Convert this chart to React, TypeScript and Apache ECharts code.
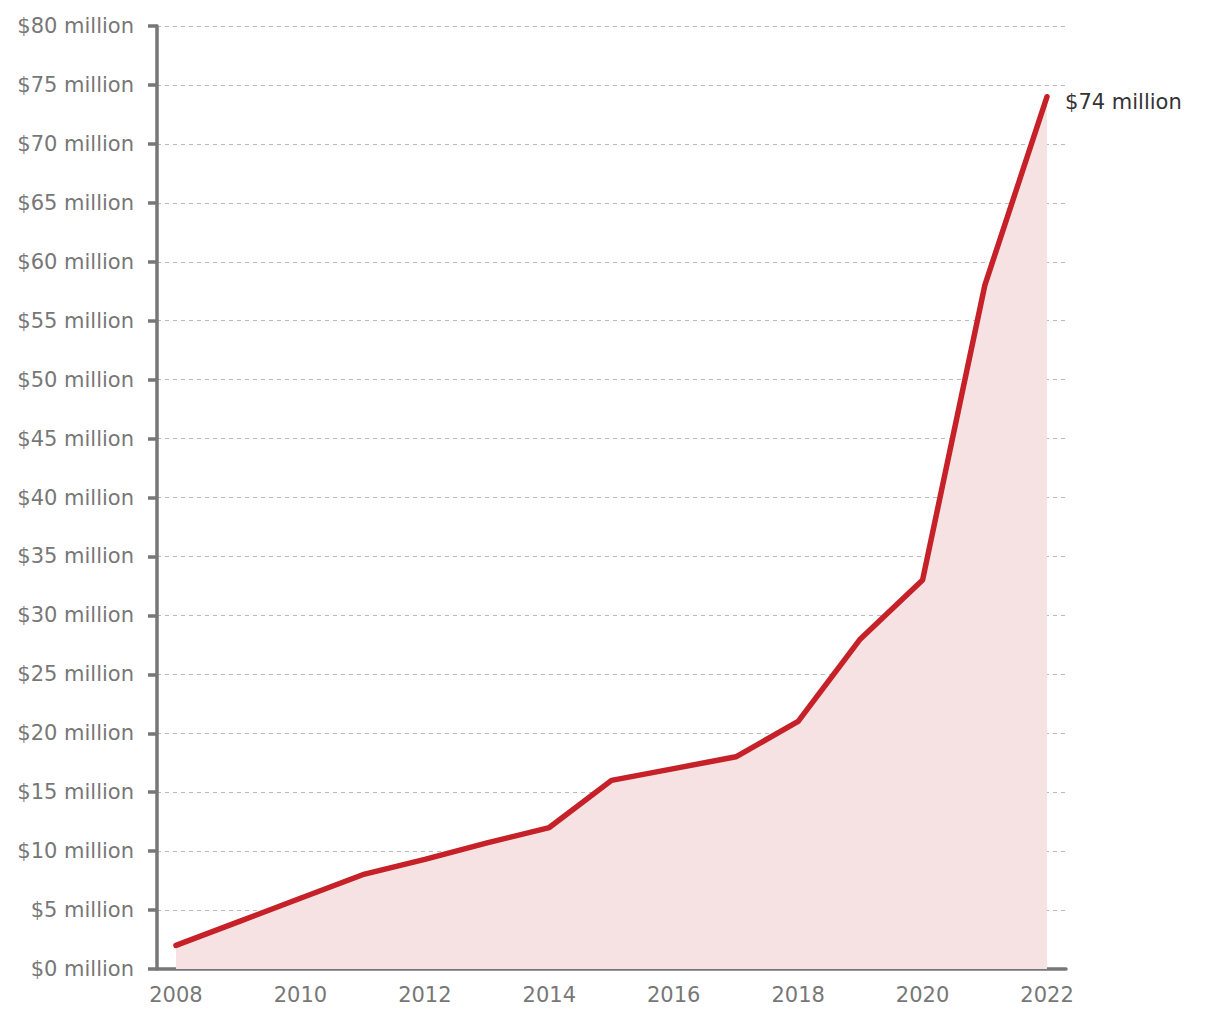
import React, { useEffect, useRef } from "react";
import * as echarts from "echarts";

const years = [2008, 2009, 2010, 2011, 2012, 2013, 2014, 2015, 2016, 2017, 2018, 2019, 2020, 2021, 2022];
const revenue = [2, 4, 6, 8, 9.3, 10.7, 12, 16, 17, 18, 21, 28, 33, 58, 74];
const xTickYears = [2008, 2010, 2012, 2014, 2016, 2018, 2020, 2022];

const FONT = "'DejaVu Sans', 'Open Sans', sans-serif";

export default function App() {
  const ref = useRef<HTMLDivElement>(null);
  useEffect(() => {
    if (!ref.current) return;
    const chart = echarts.init(ref.current, null, { renderer: "svg" });
    const data = years.map((y, i) => [y, revenue[i]]);
    chart.setOption({
      animation: false,
      grid: { left: 157, right: 154, top: 26, bottom: 51, containLabel: false },
      xAxis: {
        type: "value",
        min: 2007.695,
        max: 2022.305,
        splitLine: { show: false },
        axisLine: { show: true, lineStyle: { color: "#777777", width: 3.5 } },
        axisTick: { show: false },
        axisLabel: {
          customValues: xTickYears,
          formatter: (v: number) => String(v),
          color: "#777777",
          fontSize: 21,
          fontFamily: FONT,
          margin: 15,
        },
      },
      yAxis: {
        type: "value",
        min: 0,
        max: 80,
        interval: 5,
        axisLine: { show: true, lineStyle: { color: "#777777", width: 3.5 } },
        axisTick: { show: true, length: 9, lineStyle: { color: "#777777", width: 3.5 } },
        axisLabel: {
          formatter: (v: number) => `$${v} million`,
          color: "#777777",
          fontSize: 21,
          fontFamily: FONT,
          margin: 23,
        },
        splitLine: {
          show: true,
          lineStyle: { color: "#b5bcc0", width: 1.2, type: [4, 4] },
        },
      },
      series: [
        {
          type: "line",
          data,
          showSymbol: false,
          symbol: "none",
          lineStyle: { color: "#c62128", width: 5.5, cap: "round", join: "bevel" },
          areaStyle: { color: "#f7e2e3", opacity: 1, origin: "start" },
          endLabel: {
            show: true,
            formatter: () => `$${revenue[revenue.length - 1]} million`,
            color: "#333333",
            fontSize: 21,
            fontFamily: FONT,
            distance: 18,
            offset: [0, 5],
          },
          z: 3,
        },
      ],
    });
    return () => chart.dispose();
  }, []);
  return (
    <div
      ref={ref}
      style={{ position: "absolute", left: 0, top: 0, width: 1220, height: 1020 }}
    />
  );
}
